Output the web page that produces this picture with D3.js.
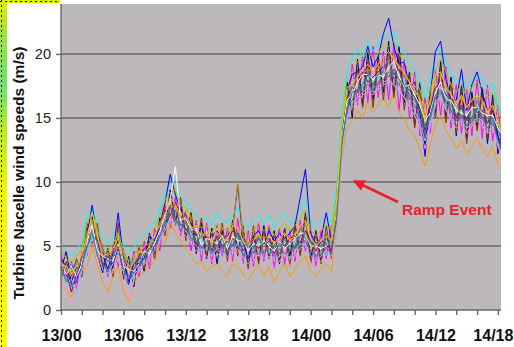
<!DOCTYPE html>
<html>
<head>
<meta charset="utf-8">
<script src="https://cdn.jsdelivr.net/npm/d3@7"></script>
<style>
  body { margin: 0; background: #fff; }
  svg { display: block; font-family: "Liberation Sans", Arial, sans-serif; }
</style>
</head>
<body>
<div class="turbine-viz"></div>
<script>
const WIDTH = 514,
    HEIGHT = 347;

// half-hour samples from 13/00, one array per turbine (m/s)
const STEP_HOURS = 0.5;
const turbine01 = [3.1,4.6,2.2,3.4,2.6,6.2,7.4,4.4,2.9,4.8,3.2,5.6,2.4,4.2,1.8,4.4,3.0,6.0,4.4,7.2,6.0,9.4,7.0,8.4,5.6,7.6,4.4,6.8,4.0,6.4,3.6,6.2,4.2,7.0,4.6,6.4,3.4,5.8,3.8,6.6,4.0,6.2,3.6,6.4,4.2,6.6,4.4,7.6,4.0,6.2,3.8,6.0,4.2,8.4,13.0,17.8,15.0,19.6,16.0,20.2,16.4,19.8,17.0,21.0,16.8,20.6,16.2,18.6,14.4,17.8,12.6,17.2,15.4,19.4,15.0,18.2,13.6,17.6,13.4,17.0,14.2,17.4,13.0,16.8,12.2,14.6];
const turbine02 = [4.4,2.6,3.8,1.6,4.6,4.2,6.6,6.2,4.8,2.6,5.0,3.4,4.8,2.0,4.6,2.6,5.4,3.2,6.4,4.6,8.2,6.4,8.8,5.8,7.8,4.6,7.0,3.8,6.8,3.6,6.6,4.2,6.4,3.8,7.2,3.6,6.2,3.4,6.8,3.8,6.6,3.2,6.4,3.6,6.2,3.8,7.0,4.6,6.4,3.4,6.2,4.0,6.6,7.0,14.6,15.0,19.2,16.0,19.8,16.2,20.6,16.6,20.2,16.4,20.8,15.6,19.6,15.0,18.6,13.6,16.6,13.8,18.8,15.2,19.0,14.2,17.6,13.8,17.2,13.6,18.0,13.4,17.6,13.2,16.0,12.0];
const turbine03 = [2.0,1.6,1.0,2.2,2.8,3.4,5.0,3.6,2.2,1.4,2.6,3.4,1.6,0.6,2.2,2.6,3.0,3.4,3.8,5.2,5.2,6.8,6.0,5.4,4.8,4.2,3.6,3.8,3.0,3.4,3.6,3.0,2.6,3.6,3.4,2.8,2.4,3.0,3.6,2.6,3.4,2.2,3.0,3.6,2.6,3.2,3.8,4.2,3.0,2.6,3.2,3.6,3.0,6.4,11.8,14.2,14.8,15.6,15.0,16.2,15.4,16.0,16.6,15.8,17.0,15.4,15.0,14.0,13.6,12.6,11.2,13.0,14.4,15.2,14.0,13.4,12.6,13.2,12.2,12.8,13.4,12.6,12.0,12.8,11.4,10.6];
const turbine04 = [5.0,4.6,4.2,4.8,5.2,7.4,8.0,6.6,5.6,5.2,5.8,6.4,5.0,4.6,4.8,5.6,6.0,6.4,6.8,8.0,9.2,9.8,10.2,8.6,8.6,7.8,7.4,7.0,7.2,6.6,7.6,7.0,6.8,7.4,8.0,6.8,6.4,7.0,7.4,6.8,7.4,6.4,7.0,7.6,6.8,7.2,8.0,8.6,7.0,6.6,7.0,7.4,6.8,9.6,15.4,18.8,19.6,20.4,19.8,21.0,20.2,20.8,21.6,21.2,21.8,20.6,20.2,19.2,18.8,17.8,16.6,18.0,19.8,20.4,19.4,18.4,17.8,18.2,17.4,18.0,18.6,18.0,17.2,17.8,16.0,15.0];
const turbine05 = [3.6,3.0,1.4,2.8,4.0,5.6,5.2,5.6,3.4,4.2,3.6,4.8,2.8,2.0,3.8,3.4,4.8,5.2,4.4,6.4,7.8,7.4,8.4,7.4,6.2,6.8,5.2,5.8,5.6,4.6,5.8,5.0,5.4,6.2,5.8,4.6,5.2,5.6,4.8,5.2,5.6,4.4,5.4,5.0,5.6,5.8,5.2,6.2,5.4,4.6,5.4,5.2,4.6,7.8,13.4,16.6,17.4,17.0,18.6,17.8,18.2,18.6,19.0,19.4,18.4,18.8,17.4,17.2,16.6,15.8,14.0,15.8,17.4,17.6,16.8,16.4,15.0,16.0,14.8,16.2,15.4,15.6,14.6,15.6,13.6,12.8];
const turbine06 = [2.4,3.8,2.6,4.0,2.8,6.8,5.2,6.8,3.4,4.6,2.6,6.8,2.4,3.4,2.8,5.0,3.2,5.4,4.0,7.0,5.8,8.2,6.6,8.8,5.4,7.6,4.8,7.2,4.2,6.2,4.4,6.8,3.8,6.8,4.2,6.6,3.2,6.6,3.6,6.2,4.0,6.0,3.8,6.4,3.4,6.8,4.2,7.4,3.6,6.0,3.6,6.6,4.0,8.0,12.6,16.8,15.4,18.8,15.8,19.4,15.8,19.6,16.4,20.2,16.6,19.8,15.6,18.4,14.2,17.2,13.2,16.6,15.0,19.0,14.6,17.8,13.8,17.0,13.0,16.6,14.0,16.8,13.4,16.2,12.6,13.4];
const turbine07 = [3.4,2.2,3.0,3.6,3.2,4.8,6.4,4.8,4.4,3.0,4.6,4.0,3.8,2.6,3.0,4.2,4.6,4.0,5.6,5.4,7.2,8.0,7.0,6.6,7.0,5.4,6.0,4.8,5.6,4.4,5.2,5.6,4.6,5.0,6.2,4.2,5.0,4.4,5.8,4.4,5.0,5.2,4.4,5.6,4.6,5.0,6.4,5.6,5.4,4.2,4.6,5.8,5.2,7.2,13.8,16.0,17.6,17.8,17.0,18.6,17.4,17.6,18.8,19.6,18.0,17.6,18.4,16.4,17.4,15.2,15.0,14.8,17.2,16.8,17.6,15.4,16.2,15.0,15.8,14.6,16.4,15.2,15.4,14.4,14.6,12.4];
const turbine08 = [4.0,3.4,2.0,2.2,4.2,5.8,8.2,5.4,4.4,3.2,4.4,7.6,4.0,2.2,3.6,4.0,4.0,5.8,5.4,6.6,8.4,10.6,9.0,7.8,7.4,6.8,5.8,6.4,5.6,5.8,6.2,5.6,5.8,6.4,9.8,5.4,4.0,5.8,6.2,5.0,6.2,5.4,6.0,5.6,6.0,6.6,8.8,11.0,6.0,5.2,5.6,7.6,5.4,8.8,14.0,17.2,18.4,18.6,19.0,20.6,19.0,19.8,21.6,22.8,20.6,19.2,19.4,17.4,17.8,15.4,12.0,16.8,20.2,21.0,18.0,16.4,16.4,18.8,15.6,17.6,18.6,17.0,15.6,16.0,13.6,11.8];
const turbine09 = [3.8,2.8,3.4,2.6,3.6,5.4,6.6,4.6,4.2,4.0,3.8,5.2,3.4,3.2,3.0,3.6,4.6,4.4,5.2,6.2,7.4,8.6,11.2,7.0,7.2,6.2,6.4,5.0,5.6,5.4,5.2,5.8,4.8,5.8,5.4,5.4,4.6,5.2,5.0,5.4,5.0,4.6,5.4,4.8,5.2,5.6,6.0,6.0,5.0,5.0,4.8,5.0,5.4,7.6,13.2,16.4,16.8,17.8,18.4,18.4,18.0,18.4,18.2,19.0,19.4,18.2,17.4,17.6,16.8,16.0,14.8,15.4,17.0,17.8,16.4,16.4,15.6,15.4,15.2,15.8,15.8,15.4,15.2,15.2,14.2,13.6];
const turbine10 = [2.6,1.2,0.6,1.6,3.0,4.4,5.6,4.0,2.6,2.2,3.0,4.6,2.0,0.8,2.4,3.0,3.6,4.0,4.6,5.4,6.2,7.2,6.6,6.0,5.8,5.2,4.6,4.4,4.2,3.8,4.4,4.2,3.6,4.4,4.8,3.6,3.0,3.8,4.4,3.6,4.2,3.2,3.8,4.4,3.4,4.2,4.8,5.2,3.6,3.4,3.8,4.4,3.6,6.6,12.4,15.2,15.8,16.2,16.8,17.0,16.8,17.4,17.8,18.0,17.6,17.2,16.6,15.8,15.2,14.2,12.6,14.4,16.0,16.6,15.6,14.8,14.2,14.6,13.8,14.4,14.8,14.4,13.8,14.2,12.8,11.6];
const turbine11 = [3.0,3.6,3.2,3.8,3.4,5.0,5.8,5.4,4.8,3.8,4.2,4.4,4.2,3.6,4.0,3.6,4.4,4.8,5.0,5.8,6.6,7.4,7.8,6.6,6.8,6.2,5.2,5.8,5.0,5.2,5.6,4.8,5.4,5.0,6.0,5.2,5.0,4.8,5.6,5.0,5.4,4.8,5.2,5.0,5.4,4.8,5.8,6.0,5.2,5.0,5.2,4.8,5.6,7.2,13.0,15.6,17.0,17.2,17.6,18.4,17.6,18.4,18.6,18.2,18.8,18.0,17.6,16.8,16.4,15.6,14.4,15.2,16.8,17.2,16.4,16.0,15.2,15.8,14.8,15.0,15.8,15.0,14.6,15.0,14.0,13.2];
const turbine12 = [3.8,3.2,2.6,3.0,4.0,6.0,7.0,5.6,4.6,4.2,4.6,5.2,4.4,3.4,3.6,4.4,5.0,5.2,5.8,6.8,7.6,8.2,8.0,7.2,7.2,6.6,6.0,6.0,5.8,5.4,6.0,5.8,5.6,6.4,10.0,5.8,5.2,5.6,5.8,5.6,5.8,5.2,5.6,6.0,5.6,6.0,6.4,6.6,5.6,5.2,5.6,6.0,5.4,8.0,14.2,17.0,17.6,18.2,18.4,18.8,18.6,18.8,19.4,19.4,19.8,19.0,18.4,17.8,17.6,16.6,15.2,16.2,18.0,18.4,17.6,16.8,16.2,16.6,15.8,16.4,16.6,16.2,15.6,16.0,14.8,13.8];
const turbine13 = [2.8,2.0,2.4,1.2,3.2,4.6,5.8,4.4,3.2,2.8,3.6,4.0,3.0,1.6,2.8,3.2,3.8,4.2,4.8,5.6,6.6,7.0,6.8,6.4,6.2,5.4,5.0,4.6,4.8,4.2,4.8,4.4,4.2,4.6,5.2,4.0,3.6,4.2,4.6,4.0,4.6,3.8,4.2,4.6,4.0,4.6,5.2,5.0,4.2,3.8,4.2,4.6,4.2,6.8,12.2,15.0,16.2,16.6,17.0,17.4,17.0,17.2,17.6,17.8,17.6,17.0,16.6,16.0,15.6,14.6,13.2,14.6,16.2,16.8,15.8,15.0,14.6,14.8,14.2,14.6,15.0,14.8,14.0,14.4,13.0,12.0];
const turbine14 = [4.6,4.0,3.6,4.2,4.8,6.8,7.6,6.2,5.2,4.6,5.2,6.0,4.6,3.8,4.2,5.0,5.4,5.8,6.4,7.4,8.6,9.2,9.4,8.2,8.0,7.2,6.8,6.4,6.6,6.0,6.8,6.4,6.2,6.8,7.2,6.2,5.8,6.2,6.8,6.2,6.6,5.8,6.4,6.8,6.2,6.6,7.2,7.8,6.2,5.8,6.2,6.6,6.2,8.8,14.8,18.2,18.6,19.4,19.6,20.2,19.6,20.0,20.8,20.6,21.0,20.0,19.4,18.6,18.2,17.2,15.8,17.0,18.8,19.6,18.6,17.6,17.0,17.6,16.6,17.4,17.8,17.4,16.6,17.0,15.6,14.6];
const turbine15 = [3.2,2.4,1.8,2.6,3.2,5.8,6.0,4.2,3.6,3.0,4.2,5.0,3.2,2.4,3.2,3.4,4.0,4.8,4.6,5.8,6.8,8.0,7.2,6.2,7.0,5.6,5.4,5.0,4.6,4.8,5.0,4.6,4.4,5.6,5.0,4.4,4.2,4.6,4.4,4.6,4.8,4.2,4.8,4.4,4.6,4.8,5.4,5.4,4.6,4.2,4.4,4.8,4.4,7.0,13.0,15.8,16.4,17.2,17.4,17.6,17.2,17.8,18.0,18.6,18.2,17.6,17.0,16.6,16.0,15.0,13.8,15.2,16.6,17.0,16.2,15.6,14.8,15.2,14.4,15.0,15.2,15.0,14.2,14.8,13.2,12.4];
const turbine16 = [3.6,3.4,2.8,3.4,4.4,5.6,7.6,5.8,4.2,4.4,4.8,5.6,3.8,3.0,3.8,4.6,4.4,5.0,5.8,6.6,7.4,8.8,8.2,7.4,7.8,6.4,6.6,5.6,6.2,5.2,6.4,5.6,5.4,6.6,6.4,5.4,5.0,5.4,6.0,5.0,5.8,5.2,5.6,6.0,5.4,5.8,6.6,7.0,5.6,5.0,5.4,5.8,5.4,8.6,14.4,17.4,17.6,18.2,18.8,19.2,18.6,19.2,19.8,20.2,19.6,19.0,18.6,17.8,17.2,16.4,14.8,16.4,18.4,18.6,17.4,16.8,16.0,16.8,15.8,16.4,16.8,16.4,15.4,16.0,14.6,13.6];

const turbines = [turbine01, turbine02, turbine03, turbine04, turbine05, turbine06, turbine07, turbine08,
    turbine09, turbine10, turbine11, turbine12, turbine13, turbine14, turbine15, turbine16];
const lineColors = ["#000080", "#ff00ff", "#ff9900", "#00ffff", "#800080", "#993300", "#339966", "#0000ff",
    "#ffffff", "#ff99cc", "#008080", "#cc9900", "#66ccff", "#99cc00", "#666699", "#ffcc00"];

const xTickLabels = ["13/00", "13/06", "13/12", "13/18", "14/00", "14/06", "14/12", "14/18"];
const yTicks = [0, 5, 10, 15, 20];

const svg = d3.select(".turbine-viz")
    .append("svg")
    .attr("width", WIDTH)
    .attr("height", HEIGHT);

// strip of the neighbouring slide on the left edge
const grad = svg.append("defs").append("linearGradient")
    .attr("id", "strip").attr("x1", 0).attr("y1", 0).attr("x2", 0).attr("y2", 1);
[[0, "#e4f000"], [0.1, "#9ee040"], [0.25, "#70e070"], [0.38, "#b8ec20"], [0.55, "#f4f400"], [1, "#ffff00"]]
    .forEach(s => grad.append("stop").attr("offset", s[0]).attr("stop-color", s[1]));
svg.append("rect").attr("x", 0).attr("y", 0).attr("width", 7).attr("height", HEIGHT).attr("fill", "url(#strip)");
svg.append("rect").attr("x", 0).attr("y", 0).attr("width", 60).attr("height", 3).attr("fill", "#d8f000");
svg.append("line").attr("x1", 1.5).attr("y1", 0).attr("x2", 1.5).attr("y2", HEIGHT)
    .attr("stroke", "#222").attr("stroke-dasharray", "2,3");
svg.append("line").attr("x1", 0).attr("y1", 1.5).attr("x2", 60).attr("y2", 1.5)
    .attr("stroke", "#222").attr("stroke-dasharray", "2,3");

const x = d3.scaleLinear().domain([0, 42.3]).range([61, 501]);
const y = d3.scaleLinear().domain([0, 23.9]).range([310, 4]);

// plot area
svg.append("rect")
    .attr("x", x(0)).attr("y", y(23.9))
    .attr("width", x(42.3) - x(0)).attr("height", y(0) - y(23.9))
    .attr("fill", "#bcb8bc");

svg.append("clipPath").attr("id", "plot-clip")
    .append("rect")
    .attr("x", x(0)).attr("y", y(23.9))
    .attr("width", x(42.3) - x(0)).attr("height", y(0) - y(23.9));

// gridlines
svg.append("g")
    .selectAll("line")
    .data(yTicks.filter(d => d > 0))
    .join("line")
    .attr("x1", x(0)).attr("x2", x(42.3))
    .attr("y1", d => y(d)).attr("y2", d => y(d))
    .attr("stroke", "#6a666a")
    .attr("stroke-width", 1.6);

const line = d3.line()
    .x((d, i) => x(i * STEP_HOURS))
    .y(d => y(d));

svg.append("g")
    .attr("clip-path", "url(#plot-clip)")
    .selectAll("path")
    .data(turbines)
    .join("path")
    .attr("d", line)
    .attr("fill", "none")
    .attr("stroke", (d, i) => lineColors[i % lineColors.length])
    .attr("stroke-width", 1)
    .attr("stroke-linejoin", "round");

// y axis
const yAxis = svg.append("g")
    .attr("transform", `translate(${x(0)},0)`)
    .call(d3.axisLeft(y).tickValues(yTicks).tickSize(5).tickPadding(5));
yAxis.select(".domain").attr("stroke", "#6a666a").attr("stroke-width", 1.4)
    .attr("d", `M0,${y(23.9)}V${y(0)}`);
yAxis.selectAll(".tick line").attr("stroke", "#6a666a").attr("stroke-width", 1.4);
yAxis.selectAll(".tick text")
    .attr("font-size", 14.5)
    .attr("font-family", "Liberation Sans, Arial, sans-serif")
    .attr("fill", "#222");

// x axis, a tick every 2 hours and a label every 6
const xAxis = svg.append("g")
    .attr("transform", `translate(0,${y(0)})`)
    .call(d3.axisBottom(x)
        .tickValues(d3.range(0, 43, 2))
        .tickSize(5)
        .tickPadding(15)
        .tickFormat(h => h % 6 === 0 ? xTickLabels[h / 6] : ""));
xAxis.select(".domain").attr("stroke", "#6a666a").attr("stroke-width", 1.4)
    .attr("d", `M${x(0)},0H${x(42.3)}`);
xAxis.selectAll(".tick line").attr("stroke", "#6a666a").attr("stroke-width", 1.4);
xAxis.selectAll(".tick text")
    .attr("font-size", 16)
    .attr("font-weight", "bold")
    .attr("font-family", "Liberation Sans, Arial, sans-serif")
    .attr("fill", "#111");
// last label sits against the right edge of the image
xAxis.selectAll(".tick text").filter(h => h === 42).attr("dx", -5);

// axis title
svg.append("text")
    .attr("transform", "translate(24,173) rotate(-90)")
    .attr("text-anchor", "middle")
    .attr("font-size", 15.5)
    .attr("font-weight", "bold")
    .attr("fill", "#111")
    .text("Turbine Nacelle wind speeds (m/s)");

// ramp annotation
svg.append("defs").append("marker")
    .attr("id", "arrow")
    .attr("viewBox", "0 0 10 10")
    .attr("refX", 9).attr("refY", 5)
    .attr("markerWidth", 4.5).attr("markerHeight", 4.5)
    .attr("orient", "auto")
    .append("path")
    .attr("d", "M0,0L10,5L0,10Z")
    .attr("fill", "#e8202a");

svg.append("line")
    .attr("x1", 398).attr("y1", 202)
    .attr("x2", 354).attr("y2", 181)
    .attr("stroke", "#e8202a")
    .attr("stroke-width", 2.6)
    .attr("marker-end", "url(#arrow)");

svg.append("text")
    .attr("x", 402).attr("y", 215)
    .attr("font-size", 15.5)
    .attr("font-weight", "bold")
    .attr("fill", "#e3262b")
    .text("Ramp Event");
</script>
</body>
</html>
